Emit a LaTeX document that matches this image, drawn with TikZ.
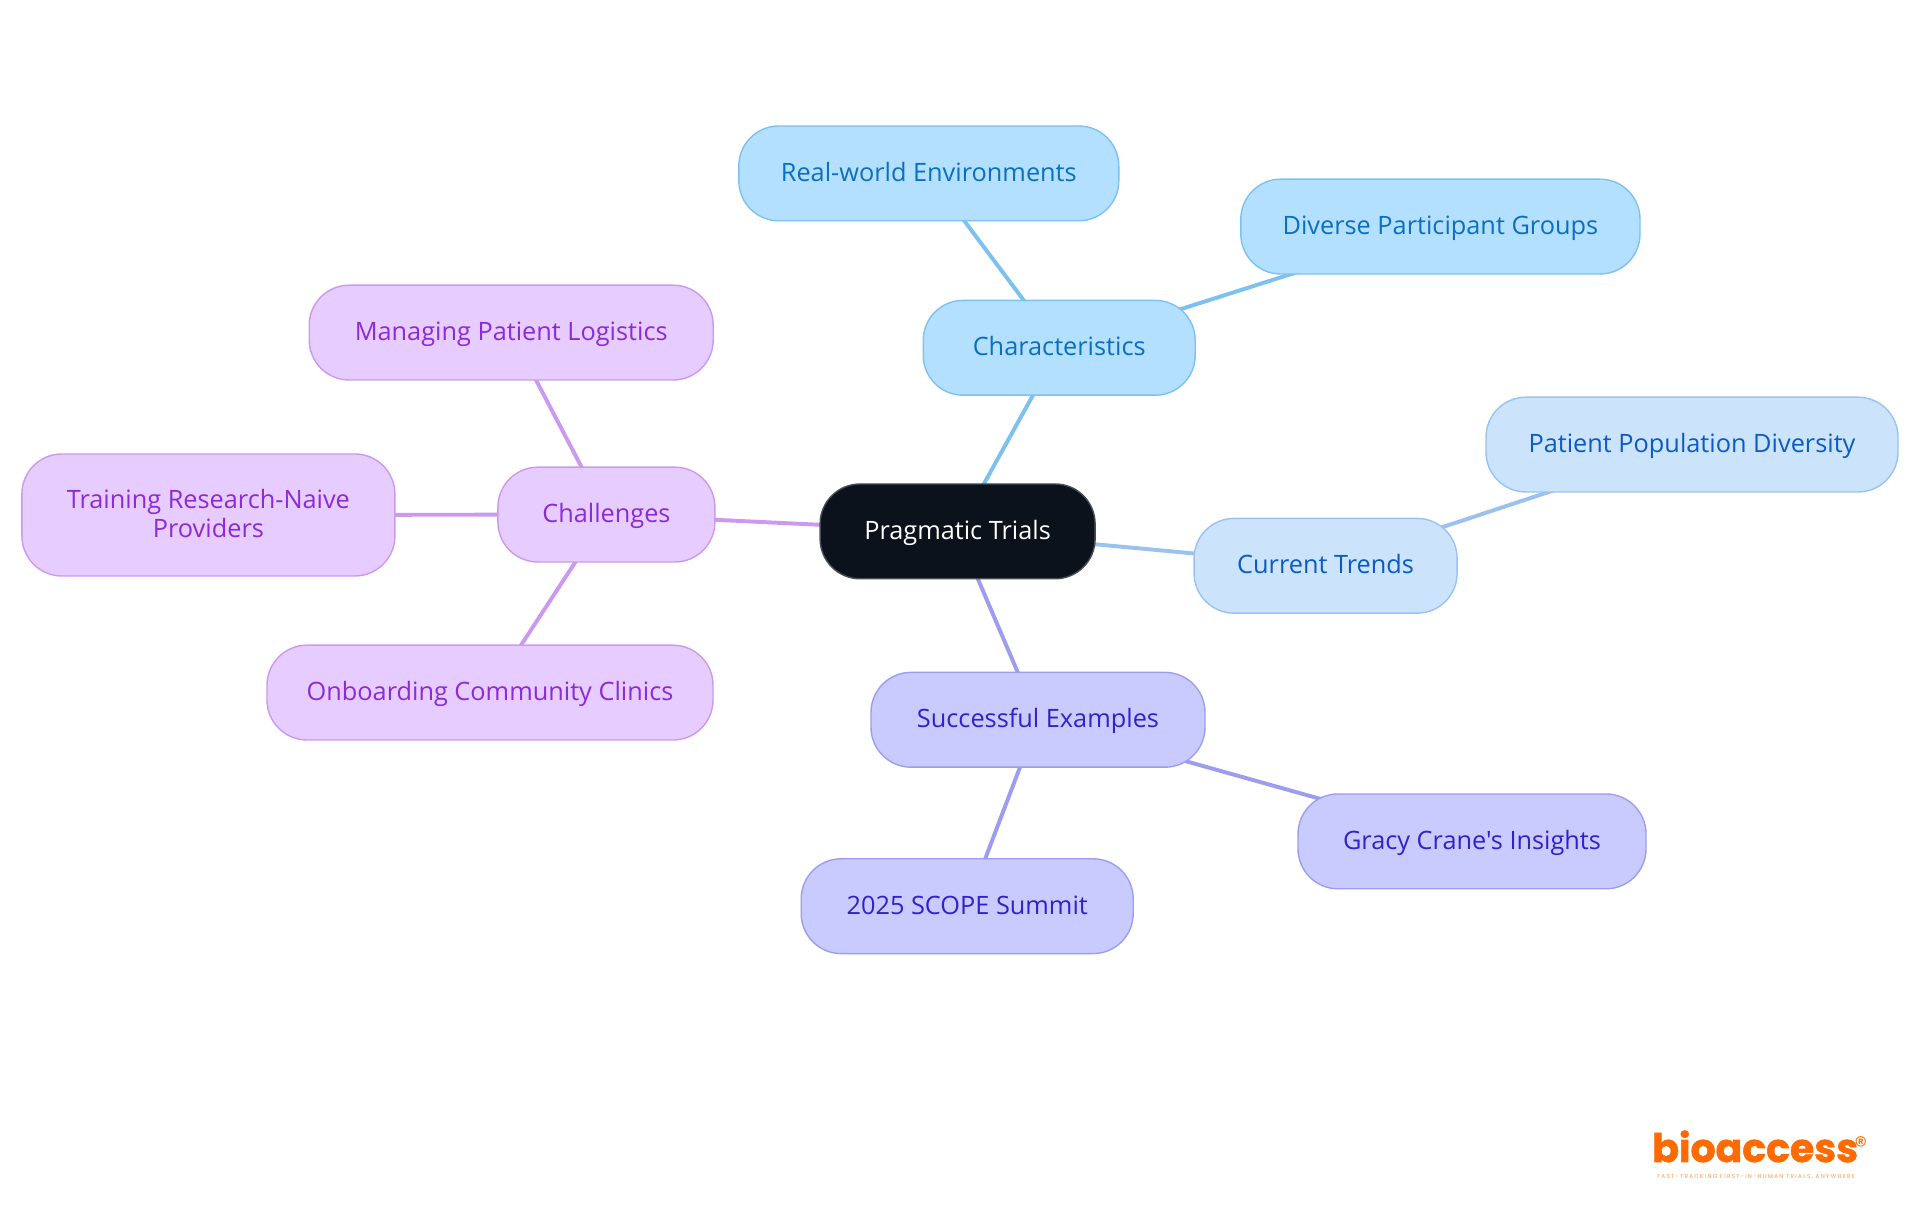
\documentclass[tikz,border=0pt]{standalone}
\usepackage{fontspec}
\setmainfont{Open Sans}[Ligatures=TeXOff]
\newfontfamily\logofont[FakeBold=1.5]{Poppins}
\newfontfamily\tagfont{Poppins}
\usetikzlibrary{backgrounds}
\definecolor{rootfill}{HTML}{0B121B}
\definecolor{charfill}{HTML}{B3E0FF}
\definecolor{charline}{HTML}{7DC1F0}
\definecolor{chartext}{HTML}{0B6FBF}
\definecolor{trendfill}{HTML}{CCE3FC}
\definecolor{trendline}{HTML}{99C2F0}
\definecolor{trendtext}{HTML}{0B5BC4}
\definecolor{examplefill}{HTML}{C9CBFF}
\definecolor{exampleline}{HTML}{9D9DF0}
\definecolor{exampletext}{HTML}{3320C8}
\definecolor{challengefill}{HTML}{E6CCFF}
\definecolor{challengeline}{HTML}{CC99F0}
\definecolor{challengetext}{HTML}{8A2BD6}
\definecolor{logoorange}{HTML}{FF6B00}
\tikzset{
  pill/.style={shape=rectangle, rounded corners=1cm, line width=1pt, minimum height=2.37cm, inner sep=0pt, align=center, text height=14pt, text depth=2.6pt, font=\fontsize{18}{20}\selectfont},
  rootpill/.style={pill, fill=rootfill, draw=rootfill!75!white, text=white},
  charpill/.style={pill, fill=charfill, draw=charline, text=chartext},
  trendpill/.style={pill, fill=trendfill, draw=trendline, text=trendtext},
  examplepill/.style={pill, fill=examplefill, draw=exampleline, text=exampletext},
  challengepill/.style={pill, fill=challengefill, draw=challengeline, text=challengetext},
  link/.style={-, line width=2.8pt},
}
\begin{document}
\begin{tikzpicture}
\useasboundingbox (0,0) rectangle (48,30.375);
\node[rootpill, minimum width=6.875cm] (root) at (23.94,17.09) {Pragmatic Trials};
\node[charpill, minimum width=6.8cm] (char) at (26.48,21.68) {Characteristics};
\node[charpill, minimum width=9.5cm] (real) at (23.22,26.04) {Real-world Environments};
\node[charpill, minimum width=9.98cm] (diverse) at (36.01,24.71) {Diverse Participant Groups};
\node[trendpill, minimum width=6.575cm] (trends) at (33.14,16.23) {Current Trends};
\node[trendpill, minimum width=10.3cm] (patient) at (42.3,19.26) {Patient Population Diversity};
\node[examplepill, minimum width=8.35cm] (examples) at (25.95,12.38) {Successful Examples};
\node[examplepill, minimum width=8.7cm] (gracy) at (36.8,9.34) {Gracy Crane's Insights};
\node[examplepill, minimum width=8.3cm] (summit) at (24.18,7.72) {2025 SCOPE Summit};
\node[challengepill, minimum width=5.425cm] (challenges) at (15.16,17.51) {Challenges};
\node[challengepill, minimum width=10.1cm] (logistics) at (12.78,22.06) {Managing Patient Logistics};
\node[challengepill, minimum width=9.325cm, minimum height=3.05cm, text height=34pt] (training) at (5.21,17.5) {Training Research-Naive\\Providers};
\node[challengepill, minimum width=11.15cm] (clinics) at (12.25,13.06) {Onboarding Community Clinics};
\begin{scope}[on background layer]
\path [link, draw=charline] (root.center) edge (char.center);
\path [link, draw=charline] (char.center) edge (real.center);
\path [link, draw=charline] (char.center) edge (diverse.center);
\path [link, draw=trendline] (root.center) edge (trends.center);
\path [link, draw=trendline] (trends.center) edge (patient.center);
\path [link, draw=exampleline] (root.center) edge (examples.center);
\path [link, draw=exampleline] (examples.center) edge (gracy.center);
\path [link, draw=exampleline] (examples.center) edge (summit.center);
\path [link, draw=challengeline] (root.center) edge (challenges.center);
\path [link, draw=challengeline] (challenges.center) edge (logistics.center);
\path [link, draw=challengeline] (challenges.center) edge (training.center);
\path [link, draw=challengeline] (challenges.center) edge (clinics.center);
\end{scope}
% logo
\node[anchor=base, inner sep=0pt, text=logoorange, font=\logofont\bfseries\fontsize{28}{28}\selectfont] (logo) at (43.88,1.325) {bioaccess};
\node[inner sep=0pt, text=logoorange, font=\tagfont\fontsize{18}{18}\selectfont] (reg) at (46.52,1.73) {®};
\node[inner sep=0pt, text=logoorange!70!white, font=\tagfont\fontsize{4}{4}\selectfont] (tagline) at (43.9,0.95) {\addfontfeature{LetterSpace=24}FAST-TRACKING FIRST-IN-HUMAN TRIALS, ANYWHERE};
\end{tikzpicture}
\end{document}
